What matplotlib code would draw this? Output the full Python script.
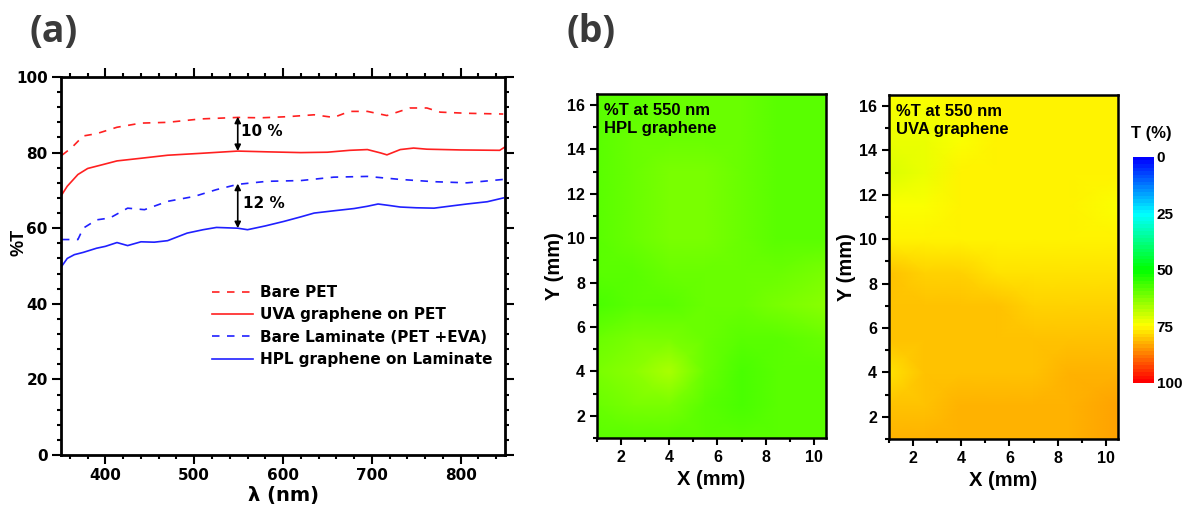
import numpy as np
import matplotlib
matplotlib.use('Agg')
import matplotlib.pyplot as plt
from matplotlib.colors import LinearSegmentedColormap
from matplotlib.ticker import MultipleLocator

plt.rcParams['font.family'] = ['Liberation Sans', 'DejaVu Sans']
plt.rcParams['font.weight'] = 'bold'
plt.rcParams['axes.labelweight'] = 'bold'

# (a) transmission spectra
wl_bare_pet = [351, 362, 375, 390, 413, 440, 470, 507, 549, 575, 605, 635, 657,
               675, 695, 717, 743, 762, 777, 807, 848]
t_bare_pet = [79.3, 81.3, 84.4, 85.0, 86.7, 87.8, 88.0, 88.9, 89.3, 89.2, 89.5,
              90.0, 89.3, 90.9, 90.9, 89.8, 91.8, 91.8, 90.7, 90.4, 90.2]

wl_uva = [351, 357, 369, 380, 395, 413, 440, 470, 507, 549, 582, 620, 650, 675,
          695, 710, 717, 732, 747, 762, 800, 844, 850]
t_uva = [68.9, 71.1, 74.2, 75.8, 76.7, 77.8, 78.5, 79.3, 79.8, 80.4, 80.2, 80.0,
         80.1, 80.6, 80.8, 79.9, 79.4, 80.8, 81.2, 80.9, 80.7, 80.6, 81.5]

wl_bare_lam = [351, 369, 375, 390, 405, 425, 444, 470, 500, 525, 549, 582, 620,
               657, 695, 732, 770, 807, 848]
t_bare_lam = [57.0, 57.0, 60.0, 62.2, 62.7, 65.3, 64.9, 67.1, 68.4, 70.2, 71.6,
              72.4, 72.6, 73.5, 73.7, 72.9, 72.3, 72.0, 72.9]

wl_hpl = [351, 357, 365, 375, 390, 400, 413, 425, 440, 455, 470, 492, 510, 525,
          549, 560, 580, 601, 620, 635, 657, 680, 695, 707, 720, 732, 750, 770,
          790, 807, 830, 848]
t_hpl = [50.0, 52.0, 53.0, 53.6, 54.7, 55.2, 56.2, 55.4, 56.4, 56.3, 56.7, 58.7,
         59.6, 60.2, 60.0, 59.6, 60.6, 61.8, 63.0, 64.0, 64.6, 65.2, 65.8, 66.4,
         66.0, 65.6, 65.4, 65.3, 65.9, 66.4, 67.0, 68.0]

# (b) %T maps at 550 nm
map_x = [1, 2.5, 4, 5.5, 7, 8.5, 10.5]
map_y = [1, 2.5, 4, 5.5, 7, 8.5, 10, 11.5, 13, 14.5, 16.5]
t_map_hpl = [
    [59, 59, 59, 58, 58, 59, 58],
    [60, 61, 62, 59, 57, 58, 58],
    [62, 64, 66, 60, 57, 58, 59],
    [60, 62, 62, 60, 59, 59, 60],
    [57, 58, 59, 60, 60, 62, 64],
    [58, 59, 60, 60, 60, 60, 61],
    [59, 60, 61, 61, 60, 59, 59],
    [59, 60, 61, 61, 60, 59, 58],
    [59, 60, 61, 61, 60, 59, 58],
    [59, 60, 60, 60, 60, 59, 58],
    [59, 59, 60, 60, 60, 59, 59],
]
t_map_uva = [
    [82, 82, 82, 82, 82, 82, 83],
    [80, 81, 82, 82, 82, 82, 83],
    [78, 80, 81, 81, 81, 82, 82],
    [80, 80, 81, 81, 80, 80, 81],
    [81, 81, 80, 80, 79, 79, 79],
    [80, 79, 79, 78, 78, 78, 78],
    [76, 76, 76, 76, 76, 76, 76],
    [74, 74, 75, 75, 75, 75, 74],
    [71, 73, 75, 75, 75, 75, 75],
    [72, 73, 74, 75, 75, 75, 75],
    [74, 74, 75, 75, 75, 75, 75],
]
cbar_ticks = [0, 25, 50, 75, 100]

cmap = LinearSegmentedColormap.from_list(
    'origin_rainbow', ['#0000ff', '#00ffff', '#00ff00', '#ffff00', '#ff0000'], N=64)

fig = plt.figure(figsize=(11.85, 5.16), dpi=100)

# ---- panel (a)
ax = fig.add_axes([0.0515, 0.1182, 0.3747, 0.7326])
dash = (0, (4.5, 4.5))
ax.plot(wl_bare_pet, t_bare_pet, color='#ff2020', lw=1.2, ls=dash, label='Bare PET')
ax.plot(wl_uva, t_uva, color='#ff2020', lw=1.2, label='UVA graphene on PET')
ax.plot(wl_bare_lam, t_bare_lam, color='#2020ff', lw=1.2, ls=dash,
        label='Bare Laminate (PET +EVA)')
ax.plot(wl_hpl, t_hpl, color='#2020ff', lw=1.2, label='HPL graphene on Laminate')
ax.set_xlim(350, 850)
ax.set_ylim(0, 100)
ax.set_xticks([400, 500, 600, 700, 800])
ax.xaxis.set_minor_locator(MultipleLocator(20))
ax.yaxis.set_major_locator(MultipleLocator(20))
ax.yaxis.set_minor_locator(MultipleLocator(4))
ax.tick_params(which='both', direction='out', top=True, right=True, width=1.5,
               labelsize=11, pad=3)
ax.tick_params(which='major', length=6.5)
ax.tick_params(which='minor', length=3)
for lbl in ax.get_xticklabels() + ax.get_yticklabels():
    lbl.set_family('DejaVu Sans')
for s in ax.spines.values():
    s.set_linewidth(2)
ax.set_xlabel('λ (nm)', fontsize=14, labelpad=2, family='DejaVu Sans')
ax.set_ylabel('%T', fontsize=13, labelpad=2)
ax.yaxis.set_label_coords(-0.075, 0.563)

arrow = dict(arrowstyle='<|-|>', color='black', lw=1.2, mutation_scale=9,
             shrinkA=0, shrinkB=0)
ax.annotate('', xy=(549, 89.5), xytext=(549, 80.4), arrowprops=arrow)
ax.text(553, 85.5, '10 %', fontsize=11, va='center', family='DejaVu Sans')
ax.annotate('', xy=(549, 71.8), xytext=(549, 60.0), arrowprops=arrow)
ax.text(555, 66.5, '12 %', fontsize=11, va='center', family='DejaVu Sans')

ax.legend(loc='upper left', bbox_to_anchor=(0.34, 0.45), frameon=False,
          prop={'family': 'DejaVu Sans', 'weight': 'bold', 'size': 11},
          handlelength=2.7, handletextpad=0.45, labelspacing=0.48,
          borderpad=0, borderaxespad=0)

fig.text(0.025, 0.918, '(a)', fontsize=27, color='#3a3a3a', weight='bold',
         family='Open Sans')
fig.text(0.478, 0.918, '(b)', fontsize=27, color='#3a3a3a', weight='bold',
         family='Open Sans')

# ---- panel (b) maps
def draw_map(pos, data, line2):
    m = fig.add_axes(pos)
    mesh = m.pcolormesh(map_x, map_y, np.array(data), cmap=cmap, vmin=0, vmax=100,
                        shading='gouraud')
    m.set_xlim(1, 10.5)
    m.set_ylim(1, 16.5)
    m.set_xticks([2, 4, 6, 8, 10])
    m.set_yticks([2, 4, 6, 8, 10, 12, 14, 16])
    m.xaxis.set_minor_locator(MultipleLocator(1))
    m.yaxis.set_minor_locator(MultipleLocator(1))
    m.tick_params(which='both', direction='out', width=1.5, labelsize=11.5)
    m.tick_params(which='major', length=5)
    m.tick_params(which='minor', length=3)
    for s in m.spines.values():
        s.set_linewidth(1.8)
    m.set_xlabel('X (mm)', fontsize=14.5, labelpad=4)
    m.set_ylabel('Y (mm)', fontsize=14.5, labelpad=2)
    m.text(0.03, 0.975, '%T at 550 nm\n' + line2, transform=m.transAxes,
           fontsize=12, va='top', ha='left', linespacing=1.25)
    return mesh

mesh = draw_map([0.5038, 0.1512, 0.1932, 0.6667], t_map_hpl, 'HPL graphene')
draw_map([0.7502, 0.1492, 0.1932, 0.6667], t_map_uva, 'UVA graphene')

cax = fig.add_axes([0.956, 0.2578, 0.0177, 0.438])
cb = fig.colorbar(mesh, cax=cax, ticks=cbar_ticks)
cb.outline.set_visible(False)
cax.invert_yaxis()
cax.tick_params(length=0, labelsize=11, pad=2)
cax.text(0.86, 1.07, 'T (%)', transform=cax.transAxes, fontsize=12, ha='center',
         va='bottom')

fig.savefig('out.png', dpi=100)
